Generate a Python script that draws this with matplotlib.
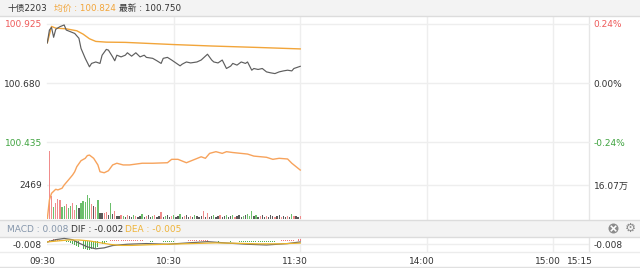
import matplotlib
matplotlib.use('Agg')
import matplotlib.pyplot as plt
import matplotlib.transforms as mtrans
from matplotlib.patches import Rectangle, Circle

# ---------------- data ----------------
title_code = '十债2203'
avg_label = '均价 : 100.824'
last_label = '最新 : 100.750'
macd_labels = ['MACD : 0.008', 'DIF : -0.002', 'DEA : -0.005']

time_ticks = [0, 60, 120, 180, 240, 255]
time_labels = ['09:30', '10:30', '11:30', '14:00', '15:00', '15:15']

price_ticks = [100.925, 100.680, 100.435]
pct_labels = ['0.24%', '0.00%', '-0.24%']
vol_ticks = [2469]
oi_ticks = [160700]
oi_labels = ['16.07万']
macd_ticks = [-0.008]

price_min = [0, 1, 2, 3, 4, 6, 8, 9, 11, 13, 15, 16, 18, 20, 21, 23, 25, 26, 28, 29,
             31, 32, 33, 35, 37, 38, 40, 42, 44, 46, 47, 50, 52, 54, 55, 57, 59, 61, 63, 64,
             66, 68, 71, 73, 75, 76, 78, 79, 81, 83, 85, 87, 88, 90, 92, 94, 95, 97, 98, 100,
             102, 104, 106, 108, 110, 112, 114, 116, 117, 120]
price_val = [100.847, 100.900, 100.911, 100.870, 100.903, 100.914, 100.921, 100.900, 100.893, 100.886,
             100.866, 100.824, 100.783, 100.748, 100.762, 100.768, 100.762, 100.796, 100.820, 100.817,
             100.789, 100.773, 100.796, 100.789, 100.796, 100.806, 100.792, 100.806, 100.789, 100.796,
             100.787, 100.783, 100.773, 100.762, 100.783, 100.787, 100.776, 100.764, 100.752, 100.759,
             100.768, 100.764, 100.768, 100.776, 100.792, 100.800, 100.776, 100.768, 100.764, 100.776,
             100.741, 100.751, 100.762, 100.755, 100.768, 100.762, 100.768, 100.734, 100.741, 100.737,
             100.741, 100.727, 100.723, 100.720, 100.727, 100.731, 100.734, 100.731, 100.741, 100.750]

avg_min = [0, 2, 4, 9, 14, 17, 20, 23, 28, 37, 60, 78, 100, 120]
avg_val = [100.847, 100.915, 100.908, 100.905, 100.897, 100.883, 100.864, 100.853, 100.850,
           100.849, 100.840, 100.834, 100.828, 100.822]

volume = [290, 4938, 1650, 870, 1160, 1450, 1380, 870, 940, 1090,
          800, 940, 1160, 650, 1020, 800, 1160, 1310, 1230, 1740,
          1520, 1090, 940, 870, 1380, 440, 440, 440, 500, 290,
          1160, 360, 580, 220, 220, 290, 220, 150, 290, 220,
          150, 290, 220, 150, 220, 360, 150, 220, 290, 150,
          220, 290, 150, 220, 510, 150, 220, 290, 150, 220,
          290, 150, 220, 360, 150, 220, 290, 150, 220, 150,
          290, 220, 150, 220, 580, 150, 440, 150, 220, 290,
          150, 220, 290, 150, 220, 290, 150, 220, 290, 150,
          220, 290, 150, 220, 290, 360, 220, 580, 220, 290,
          150, 220, 290, 150, 220, 150, 290, 220, 150, 220,
          290, 150, 220, 150, 220, 150, 360, 220, 220, 150,
          220]
vol_dir = [0, 1, 1, -1, 1, 1, 1, -1, -1, 1,
           -1, -1, 1, 1, -1, 0, -1, -1, -1, -1,
           -1, 1, 0, 1, -1, 0, 0, 1, 1, 0,
           -1, 0, 1, 0, 0, 1, -1, 0, 1, 0,
           0, -1, 1, 0, 0, -1, 0, 1, 0, 0,
           -1, 1, 0, 0, 1, 0, -1, 0, 0, 1,
           -1, 0, 0, -1, 0, 1, 0, 0, 1, 0,
           -1, 0, 0, 0, 1, 0, 1, 0, 0, -1,
           0, 0, 1, 0, 0, -1, 0, 0, -1, 1,
           0, 0, 0, -1, 0, -1, -1, -1, 0, -1,
           0, 1, 0, 0, 1, 0, 0, 0, 1, 0,
           0, 1, 0, 0, 1, 0, -1, 1, 0, 0,
           1]

oi_min = [0, 1, 2, 4, 5, 7, 8, 10, 12, 13, 14, 16, 18, 19, 20, 22, 24, 25, 27, 29,
          31, 33, 36, 39, 45, 50, 57, 59, 62, 66, 70, 73, 75, 77, 80, 83, 85, 88, 95, 98,
          104, 107, 110, 114, 116, 117, 120]
oi_val = [158700, 159820, 160210, 160450, 160410, 160510, 160700, 160990, 161290, 161480,
          161780, 162130, 162270, 162430, 162460, 162270, 161880, 161480, 161420, 161540,
          161880, 161980, 161880, 161880, 161980, 161980, 162010, 162210, 162210, 162010,
          162210, 162360, 162270, 162560, 162660, 162560, 162660, 162610, 162520, 162400,
          162330, 162210, 162270, 162230, 161980, 161880, 161580]

macd_hist = [0, 2, 4, 5, 5, 4, 3, 2, 1,
             -1, -3, -5, -7,
             -9, -12, -15, -18, -20, -21, -22, -22, -21, -19, -17, -14,
             -10, -7, -4, -2,
             1, 2, 3, 3, 3, 4, 4, 3, 3, 3, 2, 2, 2, 3, 3, 2, 2,
             1, 1, 0, -1, -1, 0, 1, 1, 0,
             -1, -2, -2, -2, -1, -1,
             0, 1, 1, 0, 0, 1,
             2, 3, 3, 4, 4, 3, 3, 4, 3, 2,
             1, 1, 0, 0, -1, 0, 0, 1, 0, 0, -1, 0, 1, 0,
             -1, -2, -2, -2, -3, -3, -2, -2, -2, -3, -2, -2, -2, -2, -1, -1, -1, -1, 0,
             1, 2, 2, 3, 3, 3, 3, 4, 4, 5, 6]  # x 0.001

dif_min = [0, 4, 8, 12, 15, 19, 23, 27, 31, 38, 47, 57, 66, 76, 85, 95, 104, 114, 120]
dif_val = [-0.0022, 0.0038, 0.0070, 0.0037, -0.0048, -0.0148, -0.0198, -0.0173, -0.0113, -0.0080,
           -0.0063, -0.0080, -0.0048, -0.0013, -0.0048, -0.0080, -0.0098, -0.0063, -0.0020]
dea_min = [0, 5, 10, 15, 20, 25, 30, 35, 40, 50, 60, 70, 80, 90, 100, 110, 120]
dea_val = [-0.0020, 0.0005, 0.0030, 0.0030, 0.0005, -0.0040, -0.0085, -0.0110, -0.0110, -0.0090,
           -0.0075, -0.0060, -0.0045, -0.0055, -0.0070, -0.0070, -0.0050]

# ---------------- styling ----------------
W, H = 640, 268
RED = '#ee5a5a'
GREEN = '#3fa33f'
TXT = '#333333'
GRID = '#eeeeee'
ORANGE = '#f2a53a'
OI_COLOR = '#f7a35c'
NUM_FONT = ['DejaVu Sans', 'Noto Sans CJK SC']
FS = 6.5

fig = plt.figure(figsize=(W / 100, H / 100), dpi=100)
fig.patch.set_facecolor('white')

X0, X1 = 47.3, 589.0
XMAX = 257


def px_axes(y0, y1, x0=X0, x1=X1):
    return fig.add_axes([x0 / W, 1 - y1 / H, (x1 - x0) / W, (y1 - y0) / H])


def clean(ax):
    for s in ax.spines.values():
        s.set_visible(False)
    ax.set_facecolor('none')
    ax.set_xlim(0, XMAX)


# background grid axes (vertical lines)
bg = px_axes(16, 252)
clean(bg)
bg.set_xticks([])
bg.set_yticks([])
for t in time_ticks[1:5]:
    bg.axvline(t, color=GRID, lw=1.0)
bg.axvline(XMAX, color='#e6e6e6', lw=1.0, clip_on=False)

# overlay for bands and header texts (pixel coordinates)
ov = fig.add_axes([0, 0, 1, 1])
ov.set_xlim(0, W)
ov.set_ylim(H, 0)
ov.axis('off')
ov.add_patch(Rectangle((0, 0), W, 16, fc='#f3f3f3', ec='none'))
ov.plot([0, W], [16, 16], color='#dcdcdc', lw=1.0)
ov.add_patch(Rectangle((0, 219.5), W, 17, fc='#f3f3f3', ec='none'))
ov.plot([0, W], [219.5, 219.5], color='#dcdcdc', lw=1.0)
ov.plot([0, W], [236.5, 236.5], color='#dcdcdc', lw=1.0)
ov.plot([0, W], [252, 252], color='#ececec', lw=1.0)
ov.plot([0, W], [267, 267], color='#e0e0e0', lw=1.0)

ov.text(8, 8.5, title_code, family=NUM_FONT, fontsize=6.3, color=TXT, va='center', ha='left')
ov.text(54, 8.5, avg_label, family=NUM_FONT, fontsize=6.3, color=ORANGE, va='center', ha='left')
ov.text(119, 8.5, last_label, family=NUM_FONT, fontsize=6.3, color=TXT, va='center', ha='left')

macd_colors = ['#8596ab', TXT, '#efb43a']
for xx, lab, c in zip([6.7, 71, 125], macd_labels, macd_colors):
    ov.text(xx, 229, lab, family=NUM_FONT, fontsize=FS, color=c, va='center', ha='left')

# icons
ov.add_patch(Circle((613.5, 228.5), 5, fc='#8c8c8c', ec='none'))
ov.plot([611.3, 615.7], [226.3, 230.7], color='white', lw=1.1)
ov.plot([611.3, 615.7], [230.7, 226.3], color='white', lw=1.1)
ov.text(630.5, 228.5, '\u2699', family=['DejaVu Sans'], fontsize=9, color='#8c8c8c',
        va='center', ha='center')

# ---------------- price panel ----------------
axp = px_axes(24, 142.5)
clean(axp)
axp.set_ylim(price_ticks[2], price_ticks[0])
for v in price_ticks:
    axp.axhline(v, color=GRID, lw=1.0, clip_on=False, zorder=0)
axp.plot(price_min, price_val, color='#5e5e5e', lw=0.85, zorder=3)
axp.plot(avg_min, avg_val, color=ORANGE, lw=1.0, zorder=2)
axp.set_xticks([])
axp.set_yticks(price_ticks)
axp.set_yticklabels([f'{v:.3f}' for v in price_ticks], family=NUM_FONT, fontsize=FS)
axp.tick_params(axis='y', length=0, pad=4)
for lab, c in zip(axp.get_yticklabels(), [RED, TXT, GREEN]):
    lab.set_color(c)
axp2 = axp.twinx()
clean(axp2)
axp2.set_ylim(price_ticks[2], price_ticks[0])
axp2.set_yticks(price_ticks)
axp2.set_yticklabels(pct_labels, family=NUM_FONT, fontsize=FS)
axp2.tick_params(axis='y', length=0, pad=3.5)
for lab, c in zip(axp2.get_yticklabels(), [RED, TXT, GREEN]):
    lab.set_color(c)

# ---------------- volume panel ----------------
axv = px_axes(151, 219)
clean(axv)
axv.set_ylim(0, max(volume))
axv.axhline(vol_ticks[0], color=GRID, lw=1.0, zorder=0)
col_map = {1: '#f08c8c', -1: '#6cbf6c', 0: '#5a5a5a'}
axv.bar(range(len(volume)), volume, width=0.62, color=[col_map[d] for d in vol_dir],
        linewidth=0, zorder=2)
axv.set_xticks([])
axv.set_yticks(vol_ticks)
axv.set_yticklabels([str(v) for v in vol_ticks], family=NUM_FONT, fontsize=FS, color=TXT)
axv.tick_params(axis='y', length=0, pad=4)
axo = axv.twinx()
clean(axo)
axo.set_ylim(158700, 162700)
axo.plot(oi_min, oi_val, color=OI_COLOR, lw=1.0, zorder=3)
axo.set_yticks(oi_ticks)
axo.set_yticklabels(oi_labels, family=NUM_FONT, fontsize=FS, color=TXT)
axo.tick_params(axis='y', length=0, pad=3.5)

# ---------------- MACD panel ----------------
axm = px_axes(236.5, 252)
clean(axm)
axm.set_ylim(-0.028, 0.012)
axm.axhline(macd_ticks[0], color=GRID, lw=1.0, zorder=0)
hist = [h * 0.001 for h in macd_hist]
axm.bar(range(len(hist)), hist, width=0.45,
        color=['#f07a7a' if h > 0 else '#52b052' for h in hist], linewidth=0, zorder=2)
axm.plot(dif_min, dif_val, color='#666666', lw=0.9, zorder=3)
axm.plot(dea_min, dea_val, color='#ebb52c', lw=0.9, zorder=3)
axm.set_yticks(macd_ticks)
axm.set_yticklabels([f'{v:.3f}' for v in macd_ticks], family=NUM_FONT, fontsize=FS, color=TXT)
axm.tick_params(axis='y', length=0, pad=4)
axm2 = axm.twinx()
clean(axm2)
axm2.set_ylim(-0.028, 0.012)
axm2.set_yticks(macd_ticks)
axm2.set_yticklabels([f'{v:.3f}' for v in macd_ticks], family=NUM_FONT, fontsize=FS, color=TXT)
axm2.tick_params(axis='y', length=0, pad=3.5)
axm.set_xticks(time_ticks)
axm.set_xticklabels(time_labels, family=NUM_FONT, fontsize=FS, color=TXT)
axm.tick_params(axis='x', length=0, pad=3.5)
shift = mtrans.ScaledTranslation(-5 / 100, 0, fig.dpi_scale_trans)
for lab in axm.get_xticklabels():
    lab.set_transform(lab.get_transform() + shift)

fig.savefig('out.png', dpi=100, facecolor='white')
